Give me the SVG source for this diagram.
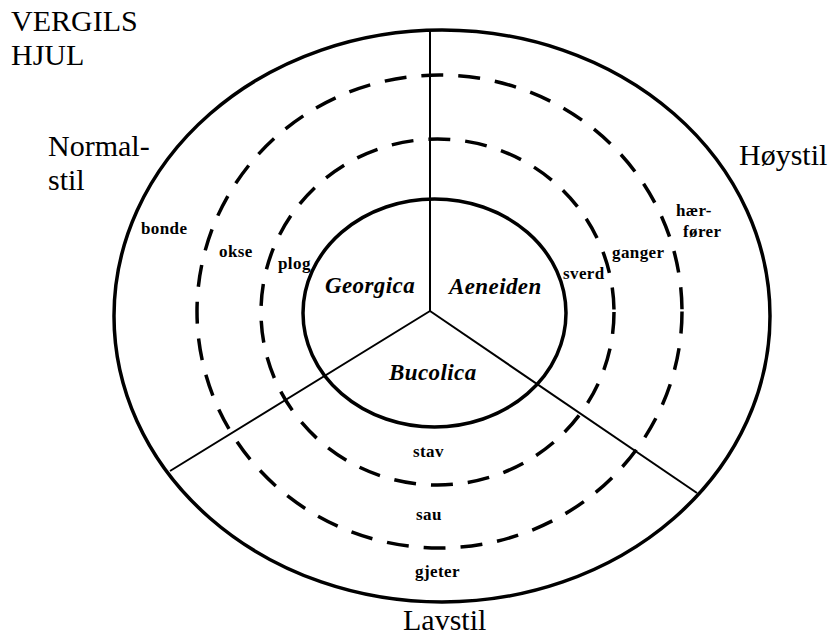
<svg xmlns="http://www.w3.org/2000/svg" width="832" height="636" viewBox="0 0 832 636">
<style>
.ring{fill:none;stroke:#000;stroke-width:3.5}
.dash{fill:none;stroke:#000;stroke-width:3.5;stroke-dasharray:22 15}
.spoke{fill:none;stroke:#000;stroke-width:2}
text{font-family:'Liberation Serif','Times New Roman',serif;fill:#000}
.big{font-size:30px}
.small{font-size:17px;font-weight:bold;letter-spacing:0.4px}
.work{font-size:23px;font-weight:bold;font-style:italic;letter-spacing:0.4px}
</style>
<rect width="832" height="636" fill="#fff"/>
<g id="rings">
<ellipse id="outer" class="ring" cx="442" cy="316" rx="328" ry="286"/>
<ellipse id="dash-outer" class="dash" cx="439.5" cy="311.5" rx="242.5" ry="236.5"/>
<ellipse id="dash-inner" class="dash" cx="437.5" cy="312" rx="176.5" ry="173"/>
<ellipse id="inner" class="ring" cx="434.5" cy="313" rx="131.5" ry="114"/>
</g>
<g id="connectors">
<line class="spoke" x1="430" y1="30" x2="430" y2="311" stroke-width="2.5"/>
<line class="spoke" x1="430" y1="311" x2="170" y2="471"/>
<line class="spoke" x1="430" y1="311" x2="697" y2="493"/>
</g>
<g id="title"><text class="big" x="11" y="31">VERGILS</text><text class="big" x="11" y="65">HJUL</text></g>
<g id="normalstil"><text class="big" x="48" y="156">Normal-</text><text class="big" x="48" y="190">stil</text></g>
<g id="hoystil"><text class="big" x="739" y="165">Høystil</text></g>
<g id="lavstil"><text class="big" x="403" y="630">Lavstil</text></g>
<g id="georgica"><text class="work" x="325" y="293">Georgica</text></g>
<g id="aeneiden"><text class="work" x="449" y="294">Aeneiden</text></g>
<g id="bucolica"><text class="work" x="389" y="380">Bucolica</text></g>
<g id="words">
<text class="small" x="141" y="234">bonde</text>
<text class="small" x="219" y="257">okse</text>
<text class="small" x="278" y="269">plog</text>
<text class="small" x="563" y="279">sverd</text>
<text class="small" x="612" y="258">ganger</text>
<text class="small" x="676" y="216">hær-</text>
<text class="small" x="683" y="237">fører</text>
<text class="small" x="413" y="457">stav</text>
<text class="small" x="416" y="520">sau</text>
<text class="small" x="415" y="577">gjeter</text>
</g>
</svg>
